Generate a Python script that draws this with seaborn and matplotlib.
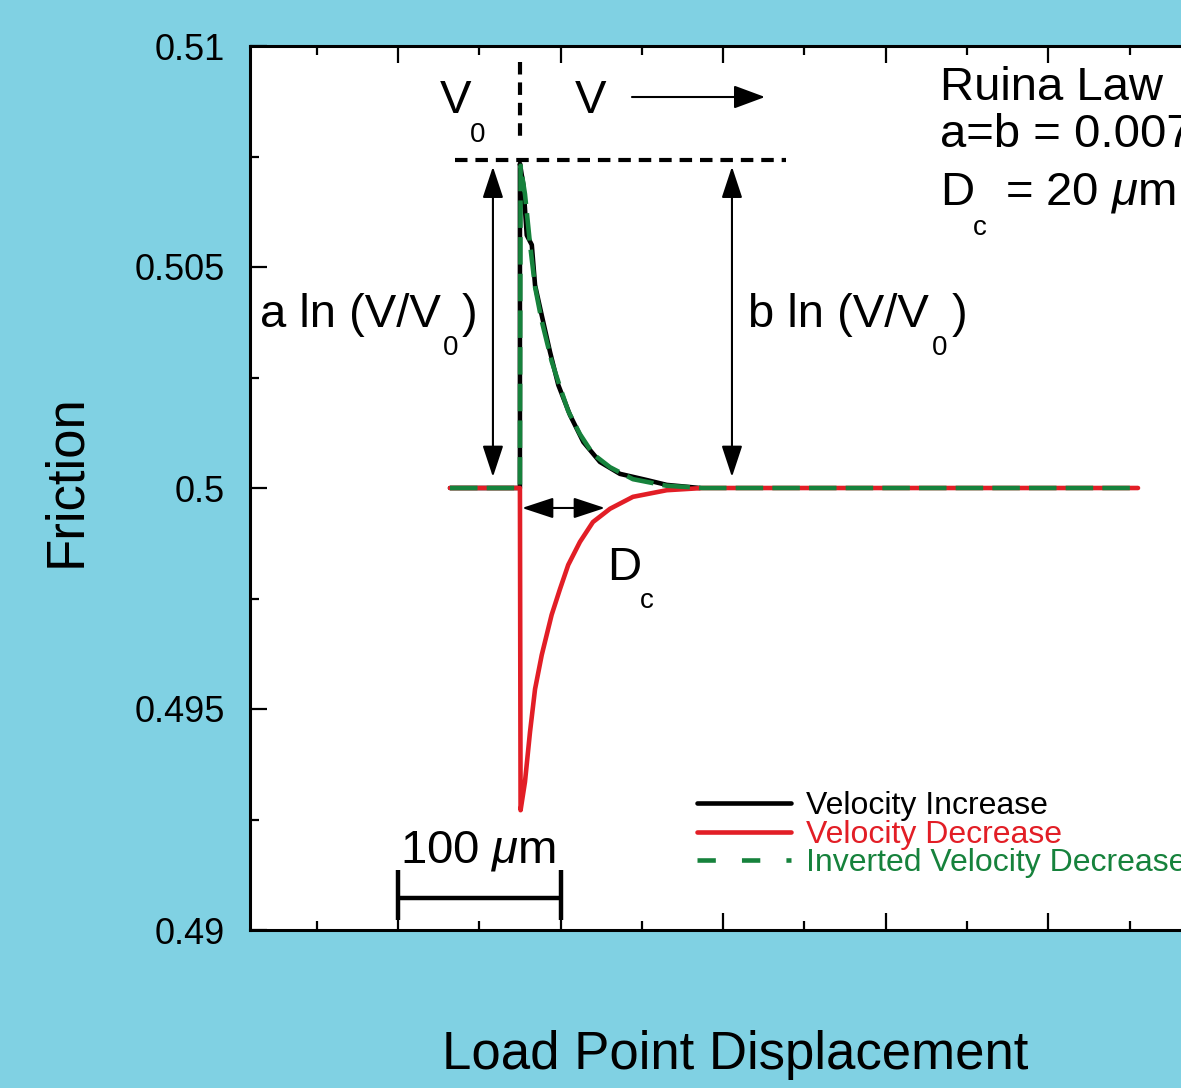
import matplotlib
matplotlib.use("Agg")
import matplotlib.pyplot as plt
import numpy as np
import pandas as pd
import seaborn as sns

# Load point displacement (um) and friction for the velocity-step responses
x_increase = [32.0, 75.0, 75.0, 77.1, 79.2, 82.3, 84.3, 88.4, 93.5, 98.6,
              105.8, 114.0, 124.2, 136.5, 153.0, 165.3, 185.7]
mu_increase = [0.5, 0.5, 0.50734, 0.50686, 0.50572, 0.50550, 0.50459, 0.50391,
               0.50308, 0.50233, 0.50165, 0.50104, 0.50059, 0.50032, 0.50018,
               0.50007, 0.5]

x_decrease = [32.0, 75.0, 75.4, 78.1, 81.2, 84.3, 88.4, 94.5, 99.6, 104.7,
              111.9, 119.9, 130.4, 144.5, 165.3, 187.6, 455.1]
mu_decrease = [0.5, 0.5, 0.49271, 0.49335, 0.49448, 0.49545, 0.49622, 0.49713,
               0.49771, 0.49826, 0.49878, 0.49923, 0.49953, 0.49980, 0.49995,
               0.5, 0.5]

mu_steady = 0.5
series_names = ["Velocity Increase", "Velocity Decrease", "Inverted Velocity Decrease"]
series_colors = ["#000000", "#E21E26", "#16823C"]

y_ticks = [0.49, 0.495, 0.5, 0.505, 0.51]
y_tick_labels = ["0.49", "0.495", "0.5", "0.505", "0.51"]
y_minor = [0.4925, 0.4975, 0.5025, 0.5075]
x_major = [0, 100, 200, 300, 400, 500]
x_minor = [-50, 50, 150, 250, 350, 450]

# the decrease response mirrored about the steady-state friction level
mu_inverted = [2 * mu_steady - m for m in mu_decrease]

df_inc = pd.DataFrame({"disp": x_increase, "friction": mu_increase})
df_dec = pd.DataFrame({"disp": x_decrease, "friction": mu_decrease})
df_inv = pd.DataFrame({"disp": x_decrease, "friction": mu_inverted})

sns.set_theme(style="ticks")
plt.rcParams["font.family"] = ["Liberation Sans", "DejaVu Sans"]
plt.rcParams["mathtext.fontset"] = "custom"
plt.rcParams["mathtext.rm"] = "Liberation Sans"
plt.rcParams["mathtext.it"] = "Liberation Sans:italic"

bg = "#80D1E3"
fig = plt.figure(figsize=(11.81, 10.88), dpi=100, facecolor=bg)
ax = fig.add_axes([250 / 1181, 1 - 930 / 1088, 961 / 1181, 884 / 1088])
ax.set_facecolor("white")

lw = 3.3
sns.lineplot(data=df_inc, x="disp", y="friction", ax=ax, sort=False, estimator=None,
             color=series_colors[0], lw=lw, label=series_names[0], zorder=3)
sns.lineplot(data=df_dec, x="disp", y="friction", ax=ax, sort=False, estimator=None,
             color=series_colors[1], lw=lw, label=series_names[1], zorder=4)
sns.lineplot(data=df_inv, x="disp", y="friction", ax=ax, sort=False, estimator=None,
             color=series_colors[2], lw=lw, label=series_names[2], zorder=5)
ax.lines[-1].set_linestyle((0, (6, 2)))

ax.set_xlim(-91, 500)
ax.set_ylim(0.49, 0.51)
ax.set_xticks(x_major)
ax.set_xticks(x_minor, minor=True)
ax.set_yticks(y_ticks)
ax.set_yticklabels(y_tick_labels)
ax.set_yticks(y_minor, minor=True)
ax.tick_params(which="both", direction="in", top=True, right=True, width=1.6,
               color="black", labelbottom=False, labelsize=26, pad=18,
               labelcolor="black")
ax.tick_params(which="major", length=12.2)
ax.tick_params(which="minor", length=6.5)
for s in ax.spines.values():
    s.set_linewidth(2.2)
    s.set_color("black")

ax.set_xlabel("Load Point Displacement", fontsize=38, color="black")
ax.set_ylabel("Friction", fontsize=38, color="black")
ax.xaxis.set_label_coords(0.505, -0.113)
ax.yaxis.set_label_coords(-0.165, 0.508)

# legend
leg = ax.legend(loc="upper left", bbox_to_anchor=(697 / 1181, 1 - 791 / 1088),
                bbox_transform=fig.transFigure, frameon=False, fontsize=23,
                handlelength=2.95, handletextpad=0.45, labelspacing=-0.04,
                borderpad=0, borderaxespad=0, labelcolor="linecolor")
leg.get_lines()[2].set_linestyle((0, (4, 5.7)))

def put(x, y, s, size=34, **kw):
    ax.text(x, y, s, fontsize=size, ha="left", va="baseline", color="black", **kw)

# step markers: V0 | V
dash = (0, (3, 1.9))
ax.plot([75, 75], [0.50964, 0.50787], color="black", lw=3, ls=dash)
ax.plot([35.1, 238.4], [0.50742, 0.50742], color="black", lw=3, ls=dash)
put(25.8, 0.50848, "V")
put(44.3, 0.50783, "0", size=20)
put(108.9, 0.50848, "V")
ax.annotate("", xy=(225.7, 0.508846), xytext=(143.9, 0.508846),
            arrowprops=dict(arrowstyle="-|>,head_length=0.97,head_width=0.36",
                            mutation_scale=20, lw=1.5, color="black",
                            shrinkA=0, shrinkB=0))

# direct and evolution effects
two_head = dict(arrowstyle="<|-|>,head_length=0.97,head_width=0.32",
                mutation_scale=20, lw=1.5, color="black", shrinkA=0, shrinkB=0)
ax.annotate("", xy=(58.4, 0.50727), xytext=(58.4, 0.50025), arrowprops=two_head)
ax.annotate("", xy=(205.4, 0.50727), xytext=(205.4, 0.50025), arrowprops=two_head)
put(-84.9, 0.503643, "a ln (V/V")
put(27.7, 0.503009, "0", size=20)
put(39.4, 0.503643, ")")
put(215.3, 0.503643, "b ln (V/V")
put(328.4, 0.503009, "0", size=20)
put(340.7, 0.503643, ")")

# critical slip distance
ax.annotate("", xy=(127.3, 0.499548), xytext=(76.3, 0.499548), arrowprops=two_head)
put(128.5, 0.497919, "D")
put(148.8, 0.497285, "c", size=20)

# parameters
put(333.3, 0.508778, "Ruina Law")
put(333.3, 0.507722, "a=b = 0.0075")
put(333.3, 0.506403, "D")
put(353.6, 0.505724, "c", size=20)
put(373.3, 0.506403, r"= 20 $\mu$m")

# scale bar
put(1.2, 0.491538, r"100 $\mu$m")
ax.plot([0, 100], [0.490724, 0.490724], color="black", lw=3.2, solid_capstyle="butt")
ax.plot([0, 0], [0.490226, 0.491357], color="black", lw=3.2, solid_capstyle="butt")
ax.plot([100, 100], [0.490226, 0.491357], color="black", lw=3.2, solid_capstyle="butt")

fig.savefig("out.png", dpi=100, facecolor=bg)
